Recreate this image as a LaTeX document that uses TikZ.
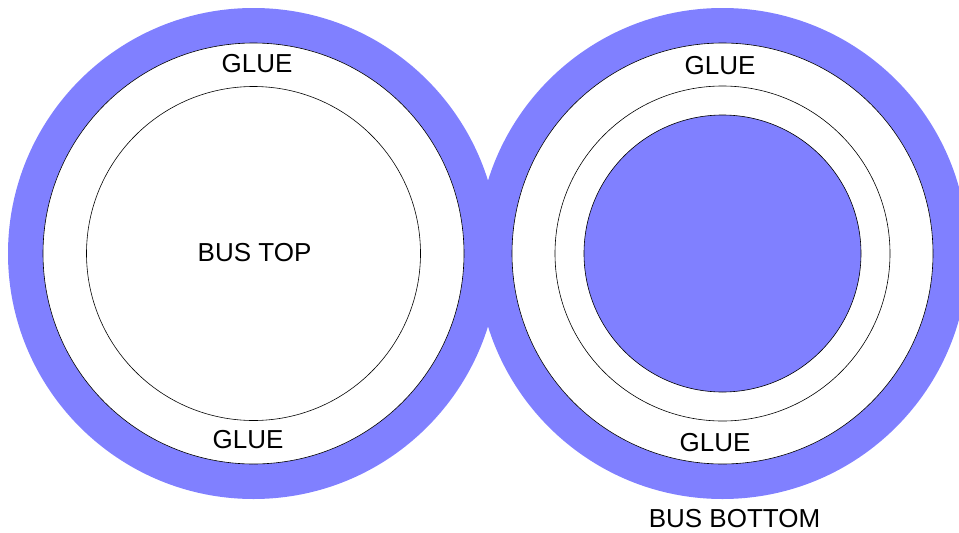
\documentclass[tikz,border=0pt]{standalone}
\usepackage{fontspec}
\setmainfont{Liberation Sans}
\usetikzlibrary{positioning}

\definecolor{busblue}{RGB}{128,128,255}

\begin{document}
\begin{tikzpicture}
  [x=1pt,y=-1pt,
  ring/.style={fill=busblue,draw=none},
  gluecirc/.style={fill=white,draw=black,line width=0.6pt},
  core/.style={fill=busblue,draw=black,line width=0.6pt},
  lbl/.style={inner sep=0pt,font=\fontsize{26}{31}\selectfont}]
  \useasboundingbox (0,0) rectangle (959,533);
  \clip (0,0) rectangle (959,533);

  \coordinate (ctop) at (253.5,253.5);
  \coordinate (cbot) at (722.5,253.5);

  % blue rings
  \fill[ring] (ctop) circle [radius=245.5];
  \fill[ring] (cbot) circle [radius=245.5];

  % glue layers
  \draw[gluecirc] (ctop) circle [radius=210.5];
  \draw[gluecirc] (cbot) circle [radius=210.5];
  \draw[gluecirc] (ctop) circle [radius=167];
  \draw[gluecirc] (cbot) circle [radius=167.5];
  \draw[core] (cbot) circle [radius=138.5];

  \node[lbl] (glue1) at (257,64) {GLUE};
  \node[lbl] (glue2) at (248,440) {GLUE};
  \node[lbl] (bustop) at (254.5,253) {BUS TOP};
  \node[lbl] (glue3) at (720,65.5) {GLUE};
  \node[lbl] (glue4) at (715,442.5) {GLUE};
  \node[lbl] (busbottom) at (734.5,518.5) {BUS BOTTOM};

\end{tikzpicture}
\end{document}
